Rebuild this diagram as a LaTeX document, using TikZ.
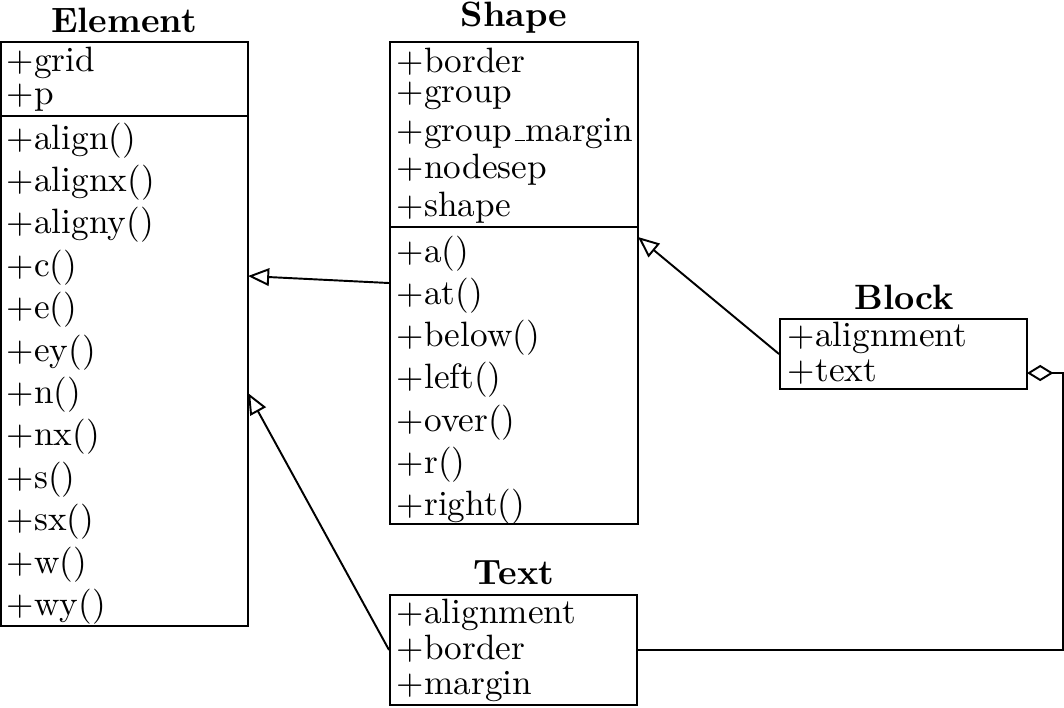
\documentclass[tikz,border=0pt]{standalone}
\usetikzlibrary{arrows.meta,fit}
\newcommand{\lowbar}{\leavevmode\kern.06em\vbox{\hrule width.3em}}
\begin{document}
\begin{tikzpicture}[x=0.284pt,y=-0.284pt, line width=0.55pt,
  box/.style={draw, inner sep=0pt},
  attr/.style={anchor=base west, inner sep=0pt},
  title/.style={anchor=base, inner sep=0pt, font=\bfseries},
  inherit/.style={-{Triangle[open,length=6pt,width=5pt]}},
  aggr/.style={-{Diamond[open,length=7.5pt,width=4.6pt]}}]
\useasboundingbox (0,0) rectangle (1064,707);
% boxes
\node[box, fit={(1,42) (248,626)}] (element) {};
\node[box, fit={(390,42) (638,524)}] (shape) {};
\node[box, fit={(780,319) (1027,389)}] (block) {};
\node[box, fit={(390,595) (637,705)}] (text) {};
% dividers
\coordinate (ediv) at (0,116);
\coordinate (sdiv) at (0,227);
\draw (element.west |- ediv) -- (element.east |- ediv);
\draw (shape.west |- sdiv) -- (shape.east |- sdiv);
% titles
\node[title] (telement) at (124,32) {Element};
\node[title] (tshape) at (514,26) {Shape};
\node[title] (tblock) at (904,309) {Block};
\node[title] (ttext) at (514,584) {Text};
% Element
\node[attr] (ea1) at (6,71) {+grid};
\node[attr] (ea2) at (6,104) {+p};
\foreach \t [count=\i from 0] in {align,alignx,aligny,c,e,ey,n,nx,s,sx,w,wy}
  \node[attr] (em\i) at (6,149+42.4*\i) {+\t()};
% Shape
\node[attr] (sa1) at (396,72) {+border};
\node[attr] (sa2) at (396,102) {+group};
\node[attr] (sa3) at (396,141) {+group\lowbar margin};
\node[attr] (sa4) at (396,178) {+nodesep};
\node[attr] (sa5) at (396,216) {+shape};
\foreach \t [count=\i from 0] in {a,at,below,left,over,r,right}
  \node[attr] (sm\i) at (396,262+42.3*\i) {+\t()};
% Block
\node[attr] (ba1) at (787,346) {+alignment};
\node[attr] (ba2) at (787,381) {+text};
% Text
\node[attr] (xa1) at (396,623) {+alignment};
\node[attr] (xa2) at (396,659) {+border};
\node[attr] (xa3) at (396,694) {+margin};
% connectors
\coordinate (eh1) at (248,276);
\coordinate (eh2) at (248,393);
\coordinate (sh1) at (638,237);
\coordinate (atop) at (1063,373);
\coordinate (bd) at (1027,373);
\draw[inherit] (shape.west) -- (eh1);
\draw[inherit] (block.west) -- (sh1);
\draw[inherit] (text.west) -- (eh2);
\draw[aggr] (text.east) -| (atop) -- (bd);
\end{tikzpicture}
\end{document}
